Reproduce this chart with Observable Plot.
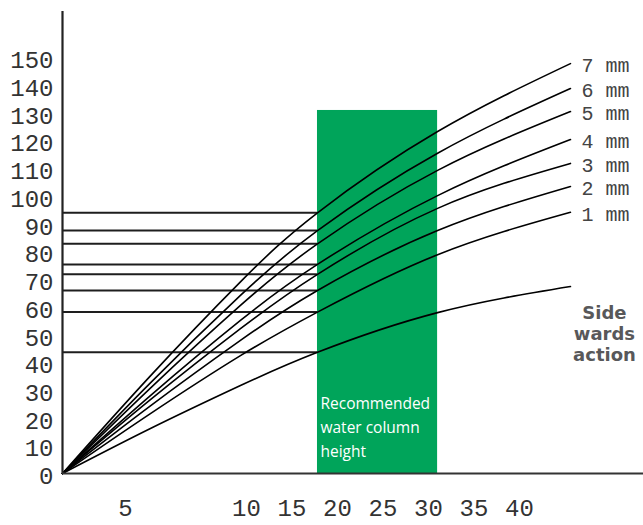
<!DOCTYPE html>
<html>
<head>
<meta charset="utf-8">
<script src="https://cdn.jsdelivr.net/npm/d3@7"></script>
<script src="https://cdn.jsdelivr.net/npm/@observablehq/plot@0.6"></script>
<style>
  html, body { margin: 0; padding: 0; background: #fff; }
  #chart svg { display: block; }
</style>
</head>
<body>
<div id="chart"></div>
<script>
// x positions (in axis units) where curves were sampled
const xs = [0, 6.03, 9.75, 17.8, 31.0, 45.6];
// series (y values at xs)
const seriesNames = ["7 mm", "6 mm", "5 mm", "4 mm", "3 mm", "2 mm", "1 mm", "Side wards action"];
const mm7  = [0, 35.2, 69.1, 94.0, 123.3, 147.8];
const mm6  = [0, 32.7, 64.2, 87.6, 115.5, 138.8];
const mm5  = [0, 30.8, 60.6, 82.8, 109.3, 130.5];
const mm4  = [0, 28.1, 55.2, 75.4, 100.2, 120.4];
const mm3  = [0, 26.6, 52.2, 71.8, 95.6, 111.8];
const mm2  = [0, 24.4, 48.0, 66.0, 87.6, 103.5];
const mm1  = [0, 21.6, 42.5, 58.2, 78.9, 94.2];
const side = [0, 16.2, 31.7, 43.7, 58.0, 67.4];
const allSeries = [mm7, mm6, mm5, mm4, mm3, mm2, mm1, side];

// recommended band
const bandX = [17.8, 31.0];
const bandTop = 130.9;
const bandLabel = "Recommended\nwater column\nheight";

// tick labels
const yTicks = [0, 10, 20, 30, 40, 50, 60, 70, 80, 90, 100, 110, 120, 130, 140, 150];
const xTicks = [5, 10, 15, 20, 25, 30, 35, 40];
const sideLabel = "Side\nwards\naction";

const lineData = [];
allSeries.forEach((arr, i) => arr.forEach((v, j) => lineData.push({series: seriesNames[i], x: xs[j], y: v})));
const refIdx = 3; // reference lines at band's left edge
const refData = allSeries.map((arr, i) => ({series: seriesNames[i], y: arr[refIdx]}));
const endData = allSeries.slice(0, 7).map((arr, i) => ({label: seriesNames[i], x: xs[xs.length - 1], y: arr[arr.length - 1]}));

const mono = "'Liberation Mono', 'Courier New', monospace";
const sans = "'Open Sans', 'Noto Sans', sans-serif";
const boldSans = "'DejaVu Sans', 'Open Sans', sans-serif";

const chart = Plot.plot({
  width: 643,
  height: 525,
  marginLeft: 62,
  marginRight: 0,
  marginTop: 11,
  marginBottom: 52,
  style: {background: "#fff", overflow: "visible"},
  x: {type: "linear", domain: [0, 5, 10, 40], range: [62, 125, 246, 519], axis: null},
  y: {type: "linear", domain: [0, 150], range: [473, 57], axis: null},
  marks: [
    Plot.rect([0], {x1: bandX[0], x2: bandX[1], y1: 0, y2: bandTop, fill: "#00a45a"}),
    Plot.ruleY(refData, {y: "y", x1: 0, x2: bandX[0], stroke: "#1e1e1e", strokeWidth: 2}),
    Plot.line(lineData, {x: "x", y: "y", z: "series", curve: "natural", stroke: "#000", strokeWidth: 1.6}),
    Plot.ruleX([0], {stroke: "#222", strokeWidth: 2.2}),
    Plot.ruleY([0], {stroke: "#333", strokeWidth: 2}),
    Plot.text(yTicks, {x: 0, y: d => d, text: d => String(d), textAnchor: "end", dx: -9, dy: 3, fontFamily: mono, fontSize: 24, fill: "#333"}),
    Plot.text(xTicks, {x: d => d, y: 0, text: d => String(d), textAnchor: "middle", dy: 35, fontFamily: mono, fontSize: 24, fill: "#333"}),
    Plot.text(endData, {x: "x", y: "y", text: "label", textAnchor: "start", dx: 11, dy: 2, fontFamily: mono, fontSize: 20, fill: "#444"}),
    Plot.text([bandLabel], {x: bandX[0], y: 16.6, text: d => d, textAnchor: "start", lineAnchor: "middle", dx: 3, dy: -2, lineHeight: 1.55, fontFamily: sans, fontSize: 15.5, fill: "#fff"}),
    Plot.text([sideLabel], {x: xs[xs.length - 1], y: side[side.length - 1], text: d => d, textAnchor: "middle", lineAnchor: "top", dx: 34, dy: 17, lineHeight: 1.17, fontFamily: boldSans, fontSize: 18, fontWeight: "bold", fill: "#58585a"})
  ]
});
document.getElementById("chart").appendChild(chart);
</script>
</body>
</html>
